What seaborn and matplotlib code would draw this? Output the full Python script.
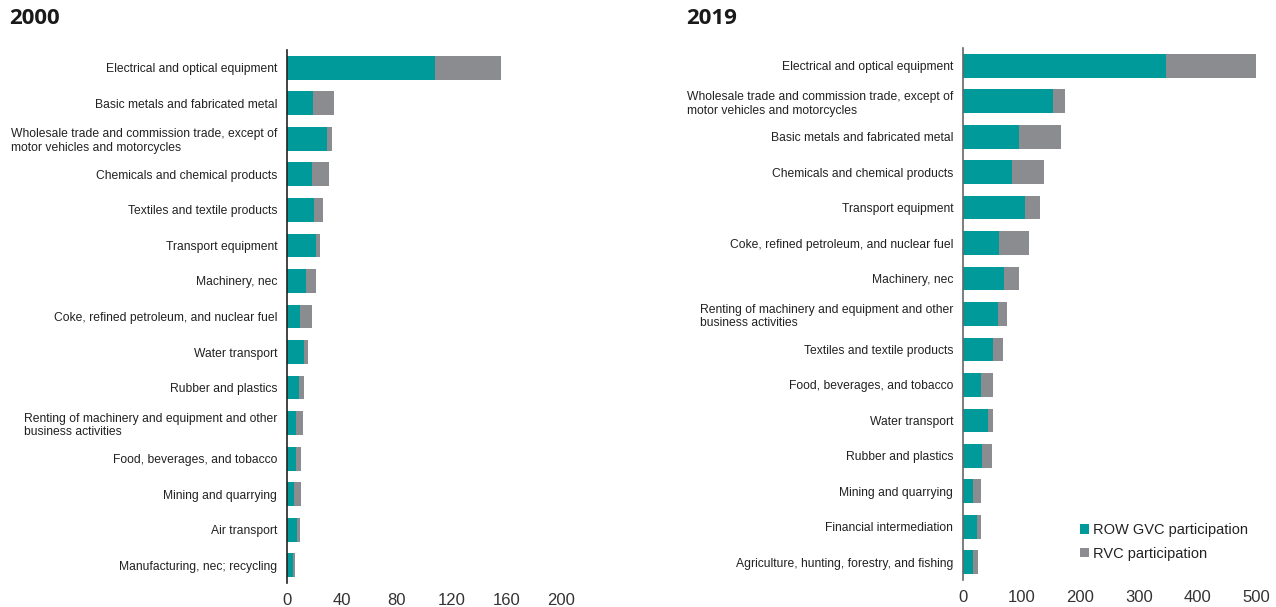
import matplotlib
matplotlib.use("Agg")
import matplotlib.pyplot as plt
import seaborn as sns
import pandas as pd
from matplotlib.patches import Patch

sns.set_theme(style="white")
plt.rcParams['font.family'] = ['Liberation Sans', 'DejaVu Sans']

TEAL = "#009a9a"
GRAY = "#8b8c90"

# ---- data: 2000 ----
cats_2000 = [
    "Electrical and optical equipment",
    "Basic metals and fabricated metal",
    "Wholesale trade and commission trade, except of\nmotor vehicles and motorcycles",
    "Chemicals and chemical products",
    "Textiles and textile products",
    "Transport equipment",
    "Machinery, nec",
    "Coke, refined petroleum, and nuclear fuel",
    "Water transport",
    "Rubber and plastics",
    "Renting of machinery and equipment and other\nbusiness activities",
    "Food, beverages, and tobacco",
    "Mining and quarrying",
    "Air transport",
    "Manufacturing, nec; recycling",
]
row_2000 = [107.8, 19.0, 29.0, 18.0, 19.7, 20.9, 13.9, 9.5, 12.4, 8.5, 6.6, 6.4, 4.9, 7.1, 4.2]
rvc_2000 = [48.7, 15.6, 3.8, 12.9, 6.9, 3.5, 7.5, 8.5, 3.2, 3.7, 4.9, 3.8, 5.3, 2.2, 1.4]

# ---- data: 2019 ----
cats_2019 = [
    "Electrical and optical equipment",
    "Wholesale trade and commission trade, except of\nmotor vehicles and motorcycles",
    "Basic metals and fabricated metal",
    "Chemicals and chemical products",
    "Transport equipment",
    "Coke, refined petroleum, and nuclear fuel",
    "Machinery, nec",
    "Renting of machinery and equipment and other\nbusiness activities",
    "Textiles and textile products",
    "Food, beverages, and tobacco",
    "Water transport",
    "Rubber and plastics",
    "Mining and quarrying",
    "Financial intermediation",
    "Agriculture, hunting, forestry, and fishing",
]
row_2019 = [346.0, 153.6, 95.6, 84.2, 105.2, 62.0, 70.5, 60.3, 51.8, 30.7, 43.2, 32.4, 17.1, 23.9, 17.1]
rvc_2019 = [156.0, 19.9, 72.2, 54.0, 26.8, 51.2, 24.5, 15.3, 17.0, 20.5, 7.4, 16.5, 14.2, 6.2, 8.5]

xticks_2000 = [0, 40, 80, 120, 160, 200]
xticks_2019 = [0, 100, 200, 300, 400, 500]

W, H = 1276, 607
fig = plt.figure(figsize=(W / 100, H / 100), dpi=100)

def panel(rect, cats, row, rvc, xticks, title, title_x, spine_color):
    ax = fig.add_axes(rect)
    df = pd.DataFrame({"cat": cats, "row": row, "rvc": rvc})
    df["total"] = df["row"] + df["rvc"]
    sns.barplot(data=df, y="cat", x="total", order=cats, color=GRAY, width=0.67,
                saturation=1, edgecolor="none", ax=ax, orient="h")
    sns.barplot(data=df, y="cat", x="row", order=cats, color=TEAL, width=0.67,
                saturation=1, edgecolor="none", ax=ax, orient="h")
    ax.set_xlim(xticks[0], xticks[-1])
    ax.set_ylim(len(cats) - 0.5, -0.5)
    ax.set_xticks(xticks)
    ax.set_xlabel("")
    ax.set_ylabel("")
    for s in ["top", "right", "bottom"]:
        ax.spines[s].set_visible(False)
    ax.spines["left"].set_color(spine_color)
    ax.spines["left"].set_linewidth(1.2)
    ax.tick_params(axis="y", length=0, pad=7, labelsize=8.7, labelcolor="#222222")
    ax.tick_params(axis="x", length=0, pad=7, labelsize=12, labelcolor="#333333")
    for lab in ax.get_yticklabels():
        lab.set_multialignment("left")
        lab.set_linespacing(1.2)
    fig.text(title_x / W, 1 - 19 / H, title, fontsize=16, fontweight="bold",
             family=["Open Sans", "DejaVu Sans"], color="#1a1a1a", va="center", ha="left")
    return ax

ax1 = panel([287 / W, 1 - 583 / H, (561 - 287) / W, (583 - 50) / H],
            cats_2000, row_2000, rvc_2000, xticks_2000, "2000", 9, "#222222")
ax2 = panel([963 / W, 1 - 580 / H, (1256 - 963) / W, (580 - 48) / H],
            cats_2019, row_2019, rvc_2019, xticks_2019, "2019", 686, "#666666")

handles = [Patch(facecolor=TEAL, edgecolor="none", label="ROW GVC participation"),
           Patch(facecolor=GRAY, edgecolor="none", label="RVC participation")]
fig.legend(handles=handles, loc="upper left", bbox_to_anchor=(1067 / W, 1 - 510 / H),
           frameon=False, fontsize=10.5, handlelength=0.6, handleheight=0.6,
           handletextpad=0.3, labelspacing=0.65, labelcolor="#222222")

fig.savefig("out.png", dpi=100)
